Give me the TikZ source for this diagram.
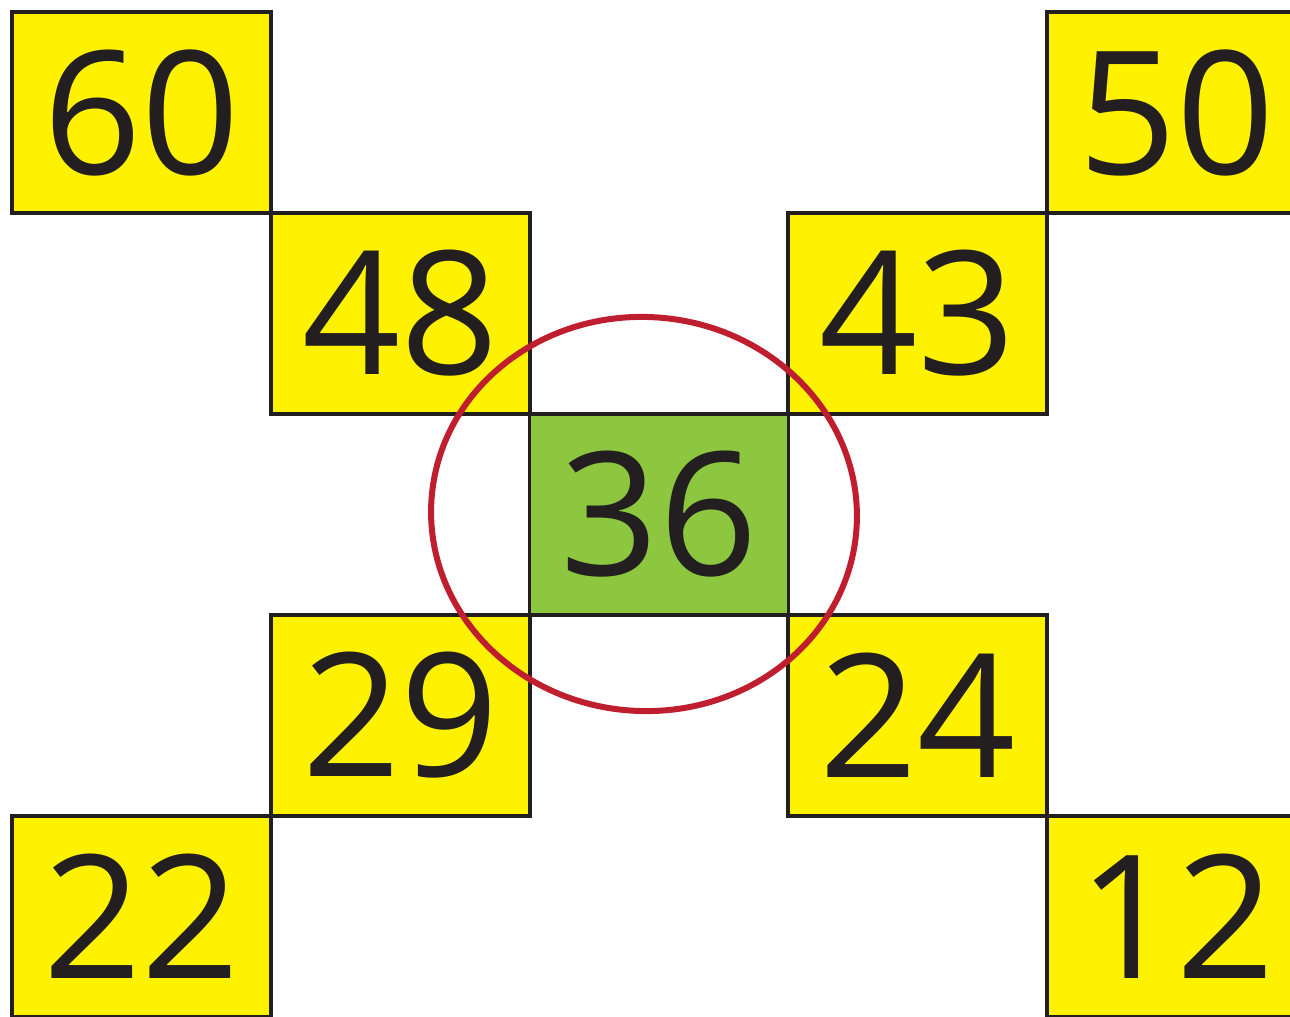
\documentclass[tikz,border=0pt]{standalone}
\usepackage{fontspec}
\setmainfont{Open Sans}
\definecolor{boxyellow}{HTML}{FFF200}
\definecolor{boxgreen}{HTML}{8DC63F}
\definecolor{ink}{HTML}{231F20}
\definecolor{ringred}{HTML}{BE1E2D}
\tikzset{
  cell/.style={draw=ink, line width=3.5pt, fill=boxyellow, minimum width=259pt, minimum height=201pt, inner sep=0pt, outer sep=0pt},
  midcell/.style={cell, fill=boxgreen},
  num/.style={inner sep=0pt, font=\fontsize{172}{172}\selectfont, text=ink},
}
\begin{document}
\begin{tikzpicture}[x=1pt,y=-1pt]
\useasboundingbox (0,0) rectangle (1290,1017);
\begin{scope}
\clip (0,0) rectangle (1290,1017);
\node[cell] (n60) at (141.5,112.5) {};
\node[cell] (n50) at (1176.5,112.5) {};
\node[cell] (n48) at (400.5,313.5) {};
\node[cell] (n43) at (917.5,313.5) {};
\node[midcell] (n36) at (659,514.5) {};
\node[cell] (n29) at (400.5,715.5) {};
\node[cell] (n24) at (917.5,715.5) {};
\node[cell] (n22) at (141.5,916.5) {};
\node[cell] (n12) at (1176.5,916.5) {};
\end{scope}
\node[num] (t60) at (n60) {60};
\node[num] (t50) at (n50) {50};
\node[num] (t48) at (n48) {48};
\node[num] (t43) at (n43) {43};
\node[num] (t36) at (n36) {36};
\node[num] (t29) at (n29) {29};
\node[num] (t24) at (n24) {24};
\node[num] (t22) at (n22) {22};
\node[num] (t12) at (n12) {12};
\draw[ringred, line width=6pt, rotate around={-4:(644,514)}] (644,514) ellipse [x radius=213pt, y radius=197pt];
\end{tikzpicture}
\end{document}
